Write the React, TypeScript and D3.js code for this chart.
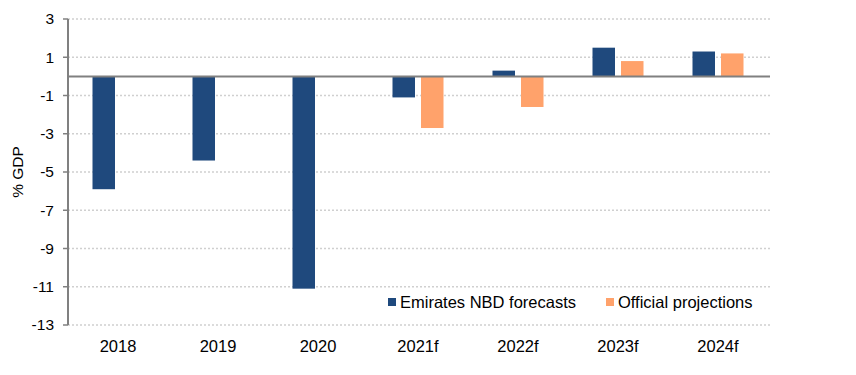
import React from "react";
import * as d3 from "d3";

const categories = ["2018", "2019", "2020", "2021f", "2022f", "2023f", "2024f"];
const enbdForecasts = [-5.9, -4.4, -11.1, -1.1, 0.3, 1.5, 1.3];
const officialProjections: (number | null)[] = [null, null, null, -2.7, -1.6, 0.8, 1.2];
const yTicks = [3, 1, -1, -3, -5, -7, -9, -11, -13];
const seriesNames = ["Emirates NBD forecasts", "Official projections"];
const colors = ["#1F497D", "#FFA26B"];

export default function App() {
  const W = 856, H = 375;
  const left = 68, right = 768, top = 19, bottom = 325;
  const x = d3.scaleBand<string>().domain(categories).range([left, right]);
  const y = d3.scaleLinear().domain([-13, 3]).range([bottom, top]);
  const barW = 22.5, gap = 6;
  const font = "Arial, 'Liberation Sans', sans-serif";

  const bars: JSX.Element[] = [];
  categories.forEach((c, i) => {
    const cx = (x(c) as number) + x.bandwidth() / 2;
    const vals = [enbdForecasts[i], officialProjections[i]];
    vals.forEach((v, s) => {
      if (v === null || v === undefined) return;
      const bx = s === 0 ? cx - gap / 2 - barW : cx + gap / 2;
      const y0 = y(0), y1 = y(v);
      bars.push(
        <rect key={`${c}-${s}`} x={bx} width={barW} y={Math.min(y0, y1)} height={Math.abs(y1 - y0)} fill={colors[s]} />
      );
    });
  });

  return (
    <svg width={W} height={H} style={{ position: "absolute", left: 0, top: 0, background: "#fff" }}>
      {yTicks.map((t) => (
        <g key={t}>
          <line x1={left} x2={770} y1={y(t)} y2={y(t)} stroke="#d0d0d0" strokeWidth={1.3} strokeDasharray="2,2" />
          <line x1={left - 5} x2={left} y1={y(t)} y2={y(t)} stroke="#808080" strokeWidth={1.5} />
          <text x={54} y={y(t)} dy="0.35em" textAnchor="end" fontSize={15.5} fontFamily={font} fill="#000">{t}</text>
        </g>
      ))}
      {bars}
      <line x1={left} x2={770} y1={y(0)} y2={y(0)} stroke="#808080" strokeWidth={2} />
      <line x1={left} x2={left} y1={top} y2={bottom} stroke="#808080" strokeWidth={2} />
      {categories.map((c) => (
        <text key={c} x={(x(c) as number) + x.bandwidth() / 2} y={352} textAnchor="middle" fontSize={16.5} fontFamily={font} fill="#000">{c}</text>
      ))}
      <text transform={`translate(23,${(top + bottom) / 2}) rotate(-90)`} textAnchor="middle" fontSize={15.5} fontFamily={font} fill="#000">% GDP</text>
      <g>
        <rect x={388} y={298} width={8} height={8} fill={colors[0]} />
        <text x={400} y={302} dy="0.35em" fontSize={16.5} fontFamily={font} fill="#000">{seriesNames[0]}</text>
        <rect x={606} y={298} width={8} height={8} fill={colors[1]} />
        <text x={618} y={302} dy="0.35em" fontSize={16.5} fontFamily={font} fill="#000">{seriesNames[1]}</text>
      </g>
    </svg>
  );
}
